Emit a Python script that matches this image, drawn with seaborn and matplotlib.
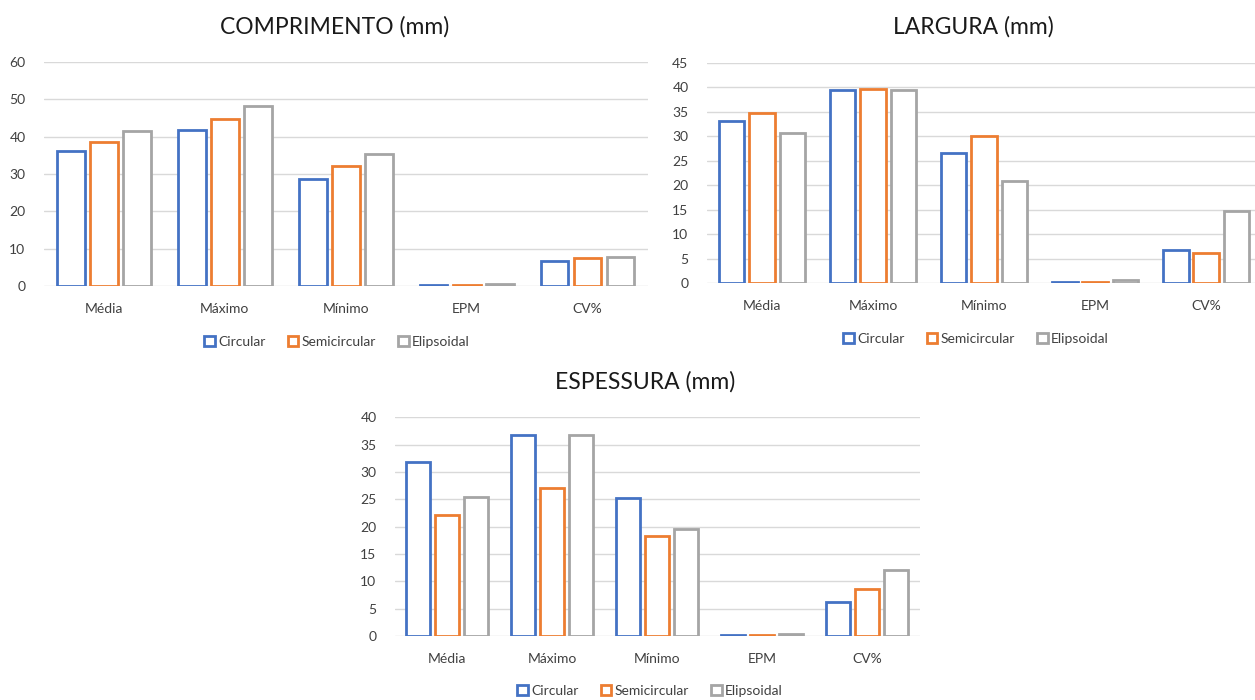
import matplotlib
matplotlib.use("Agg")
import matplotlib.pyplot as plt
import seaborn as sns
import pandas as pd

# Statistics on the x axis and the three shape groups
categorias = ["Média", "Máximo", "Mínimo", "EPM", "CV%"]
formas = ["Circular", "Semicircular", "Elipsoidal"]

# COMPRIMENTO (mm)
comp_circular = [36.1, 41.8, 28.6, 0.4, 6.7]
comp_semicircular = [38.5, 44.6, 32.1, 0.4, 7.4]
comp_elipsoidal = [41.5, 48.3, 35.3, 0.6, 7.7]

# LARGURA (mm)
larg_circular = [33.1, 39.4, 26.5, 0.3, 6.7]
larg_semicircular = [34.8, 39.6, 30.1, 0.3, 6.1]
larg_elipsoidal = [30.6, 39.4, 20.8, 0.7, 14.8]

# ESPESSURA (mm)
esp_circular = [31.8, 36.7, 25.2, 0.2, 6.2]
esp_semicircular = [22.1, 27.1, 18.2, 0.2, 8.6]
esp_elipsoidal = [25.4, 36.7, 19.6, 0.35, 12.0]

cores = ["#4472C4", "#ED7D31", "#A5A5A5"]

W, H = 1255, 700
sns.set_theme(style="white")
plt.rcParams["font.family"] = ["Lato", "DejaVu Sans"]

fig = plt.figure(figsize=(W / 100, H / 100), dpi=100)
fig.patch.set_facecolor("white")


def long_frame(series):
    rows = []
    for forma, vals in zip(formas, series):
        for cat, v in zip(categorias, vals):
            rows.append({"Estatística": cat, "Forma": forma, "Valor": v})
    return pd.DataFrame(rows)


def painel(left, right, y0, ytop, ymax, step, series, titulo, titulo_xy,
           legenda_xy, xmax=None):
    # axes placed in pixel coordinates of the figure
    ax = fig.add_axes([left / W, 1 - y0 / H, (right - left) / W, (y0 - ytop) / H])
    df = long_frame(series)
    sns.barplot(data=df, x="Estatística", y="Valor", hue="Forma",
                order=categorias, hue_order=formas, palette=cores,
                width=0.82, gap=0.16, errorbar=None, ax=ax, legend=False,
                linewidth=2.0, zorder=3)
    for cont, cor in zip(ax.containers, cores):
        for p in cont.patches:
            p.set_facecolor("white")
            p.set_edgecolor(cor)
            p.set_linewidth(2.0)
    ax.set_ylim(0, ymax)
    ax.set_yticks(range(0, ymax + 1, step))
    if xmax is None:
        ax.set_xlim(-0.5, 4.5)
    else:
        ax.set_xlim(-0.5, xmax)
    ax.grid(axis="y", color="#D9D9D9", linewidth=1.0, zorder=0)
    ax.set_axisbelow(True)
    for s in ax.spines.values():
        s.set_visible(False)
    ax.set_xlabel("")
    ax.set_ylabel("")
    ax.tick_params(axis="both", length=0, labelsize=10, colors="#404040")
    ax.tick_params(axis="y", pad=13)
    ax.tick_params(axis="x", pad=12)
    fig.text(titulo_xy[0] / W, 1 - titulo_xy[1] / H, titulo, ha="center",
             va="center", fontsize=16.5, color="#1a1a1a")
    handles = [c.patches[0] for c in ax.containers]
    ax.legend(handles, formas, loc="center",
              bbox_to_anchor=(legenda_xy[0] / W, 1 - legenda_xy[1] / H),
              bbox_transform=fig.transFigure, ncol=3, frameon=False,
              fontsize=10, handlelength=0.75, handleheight=0.75,
              handletextpad=0.25, columnspacing=1.6, labelcolor="#404040")
    return ax


painel(43.5, 648, 286, 62, 60, 10,
       [comp_circular, comp_semicircular, comp_elipsoidal],
       "COMPRIMENTO (mm)", (335, 27), (337, 342))

painel(706.5, 1255, 283.3, 62.7, 45, 5,
       [larg_circular, larg_semicircular, larg_elipsoidal],
       "LARGURA (mm)", (973, 27), (976, 339), xmax=4.44)

painel(394.5, 919.5, 636, 417.3, 40, 5,
       [esp_circular, esp_semicircular, esp_elipsoidal],
       "ESPESSURA (mm)", (645, 382), (650, 691))

fig.savefig("out.png", dpi=100, facecolor="white")
